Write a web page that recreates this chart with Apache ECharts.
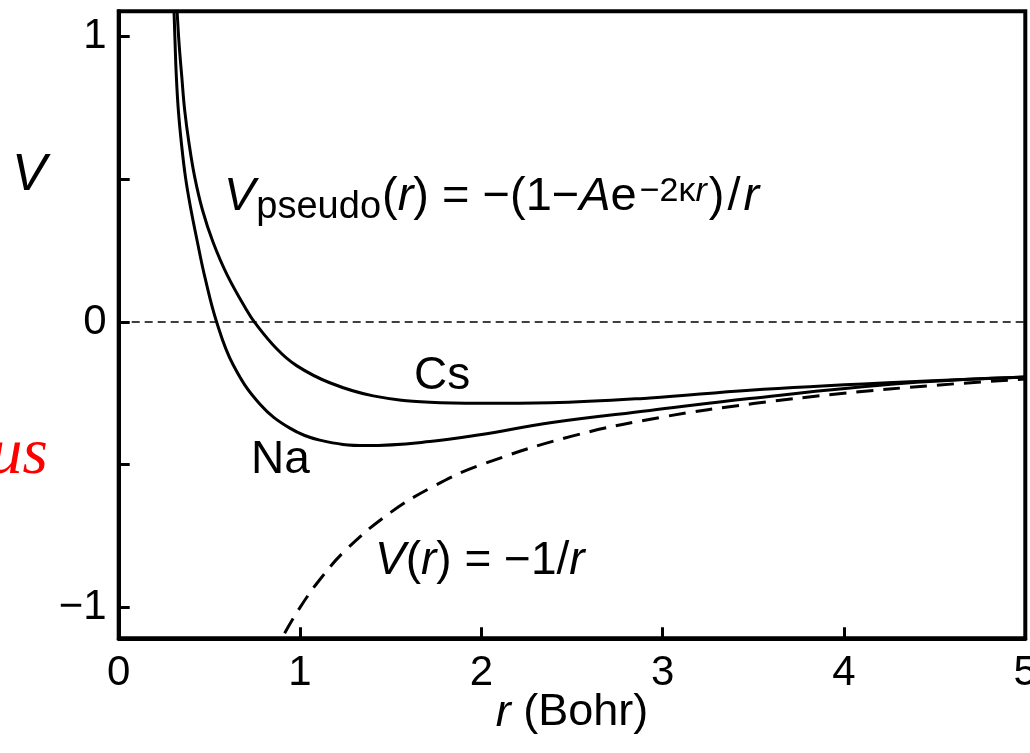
<!DOCTYPE html>
<html>
<head>
<meta charset="utf-8">
<script src="https://cdn.jsdelivr.net/npm/echarts@6/dist/echarts.min.js"></script>
<style>
  html, body { margin: 0; padding: 0; background: #fff; }
  #chart { width: 1030px; height: 753px; }
</style>
</head>
<body>
<div id="chart"></div>
<script>
// Pseudopotential curves V(r) in atomic units
const naR = [0.305, 0.311, 0.318, 0.329, 0.346, 0.368, 0.395, 0.434, 0.476, 0.540, 0.631, 0.778, 0.944, 1.109, 1.367, 1.716, 1.992, 2.38, 2.93, 3.48, 4.33, 5.0];
const naV = [1.09, 0.975, 0.858, 0.741, 0.625, 0.508, 0.405, 0.280, 0.155, 0.0, -0.150, -0.287, -0.372, -0.414, -0.433, -0.419, -0.395, -0.353, -0.310, -0.268, -0.215, -0.193];

const csR = [0.322, 0.333, 0.348, 0.364, 0.388, 0.419, 0.462, 0.520, 0.598, 0.705, 0.748, 0.870, 0.981, 1.164, 1.404, 1.716, 1.992, 2.38, 2.93, 3.48, 4.24, 5.0];
const csV = [1.09, 0.975, 0.858, 0.741, 0.625, 0.508, 0.392, 0.280, 0.165, 0.042, 0.0, -0.093, -0.153, -0.213, -0.259, -0.281, -0.285, -0.283, -0.266, -0.239, -0.213, -0.193];

// Bare Coulomb potential
const coulR = [0.915, 1.0, 1.1, 1.25, 1.5, 1.75, 2.0, 2.5, 3.0, 3.5, 4.0, 4.5, 5.0];
const coulV = [-1.09, -1.0, -0.91, -0.80, -0.667, -0.571, -0.5, -0.4, -0.333, -0.286, -0.25, -0.222, -0.2];

// Axis ticks
const vTicks = [-1, -0.5, 0, 0.5, 1];
const vTickLabels = [-1, 0, 1];

const FONT = '"Liberation Sans", Arial, Helvetica, sans-serif';
const pairs = (xs, ys) => xs.map((x, i) => [x, ys[i]]);
const minus = v => (v < 0 ? '\u2212' + Math.abs(v) : String(v));

const chart = echarts.init(document.getElementById('chart'), null, { renderer: 'canvas' });

const annot = (text, x, y, size, extra) => Object.assign({
  type: 'text', x: x, y: y, z: 100,
  style: Object.assign({
    text: text, fill: '#000', fontFamily: FONT, fontSize: size,
    align: 'left', verticalAlign: 'middle'
  }, extra || {})
});

const eqRich = {
  n:    { fontFamily: FONT, fontSize: 46, lineHeight: 56, color: '#000' },
  i:    { fontFamily: FONT, fontSize: 46, lineHeight: 56, color: '#000', fontStyle: 'italic' }
};

const formulaRich = {
  n:    { fontFamily: FONT, fontSize: 47, lineHeight: 60, color: '#000' },
  i:    { fontFamily: FONT, fontSize: 47, lineHeight: 60, color: '#000', fontStyle: 'italic' },
  sl:   { fontFamily: FONT, fontSize: 47, lineHeight: 60, color: '#000', padding: [0, 3, 0, 3] },
  sub:  { fontFamily: FONT, fontSize: 38, lineHeight: 36, color: '#000', verticalAlign: 'bottom', padding: [0, 1, 0, 1] },
  sup:  { fontFamily: FONT, fontSize: 34, lineHeight: 44, color: '#000', verticalAlign: 'top', padding: [8, 0, 0, 3] },
  supi: { fontFamily: FONT, fontSize: 34, lineHeight: 44, color: '#000', verticalAlign: 'top', fontStyle: 'italic', padding: [8, 2, 0, 0] }
};

const lineStyle = (extra) => Object.assign({ color: '#000', width: 3 }, extra || {});

chart.setOption({
  animation: false,
  backgroundColor: '#fff',
  grid: {
    left: 118.7, right: 4.7, top: 11.3, bottom: 114.7,
    outerBoundsMode: 'none', containLabel: false,
    show: true, borderColor: '#000', borderWidth: 4, backgroundColor: 'transparent'
  },
  xAxis: {
    type: 'value', min: 0, max: 5, interval: 1,
    axisLine: { show: true, onZero: false, lineStyle: { color: '#000', width: 4 } },
    axisTick: { show: true, inside: true, length: 11, lineStyle: { color: '#000', width: 3 } },
    axisLabel: { color: '#000', fontFamily: FONT, fontSize: 42, margin: 14, showMinLabel: true, showMaxLabel: true, hideOverlap: false },
    splitLine: { show: false }
  },
  yAxis: {
    type: 'value', min: -1.108, max: 1.088,
    axisLine: { show: true, onZero: false, lineStyle: { color: '#000', width: 4 } },
    axisTick: { show: true, inside: true, length: 11, customValues: vTicks, lineStyle: { color: '#000', width: 3 } },
    axisLabel: { color: '#000', fontFamily: FONT, fontSize: 42, margin: 12, customValues: vTickLabels, formatter: minus },
    splitLine: { show: false }
  },
  series: [
    {
      name: 'Na', type: 'line', data: pairs(naR, naV),
      showSymbol: false, smooth: 0.4, clip: true,
      lineStyle: lineStyle()
    },
    {
      name: 'Cs', type: 'line', data: pairs(csR, csV),
      showSymbol: false, smooth: 0.4, clip: true,
      lineStyle: lineStyle()
    },
    {
      name: 'Coulomb', type: 'line', data: pairs(coulR, coulV),
      showSymbol: false, smooth: 0.4, clip: true,
      lineStyle: lineStyle({ type: [17, 10] }),
      markLine: {
        silent: true, symbol: ['none', 'none'], label: { show: false },
        lineStyle: { color: '#000', width: 1.7, type: [8, 5] },
        data: [{ yAxis: 0 }]
      }
    }
  ],
  graphic: [
    annot('V', 12, 176, 52, { fontStyle: 'italic' }),
    {
      type: 'text', x: 224, y: 197, z: 100,
      style: {
        text: '{i|V}{sub|pseudo}{n|(}{i|r}{n|) = \u2212(1\u2212}{i|A}{n|e}{sup|\u22122\u03ba}{supi|r}{n|)}{sl|/}{i|r}',
        rich: formulaRich, align: 'left', verticalAlign: 'middle'
      }
    },
    annot('Cs', 414, 376, 46),
    annot('Na', 251, 460, 46),
    {
      type: 'text', x: 375, y: 561, z: 100,
      style: {
        text: '{i|V}{n|(}{i|r}{n|) = \u22121/}{i|r}',
        rich: eqRich, align: 'left', verticalAlign: 'middle'
      }
    },
    {
      type: 'text', x: 572, y: 713, z: 100,
      style: {
        text: '{i|r}{n| (Bohr)}',
        rich: {
          n: { fontFamily: FONT, fontSize: 45, lineHeight: 54, color: '#000' },
          i: { fontFamily: FONT, fontSize: 45, lineHeight: 54, color: '#000', fontStyle: 'italic' }
        },
        align: 'center', verticalAlign: 'middle'
      }
    },
    annot('us', -10, 456, 65, {
      fill: '#ff0000', fontStyle: 'italic',
      fontFamily: '"Liberation Serif", "DejaVu Serif", serif'
    })
  ]
});
</script>
</body>
</html>
